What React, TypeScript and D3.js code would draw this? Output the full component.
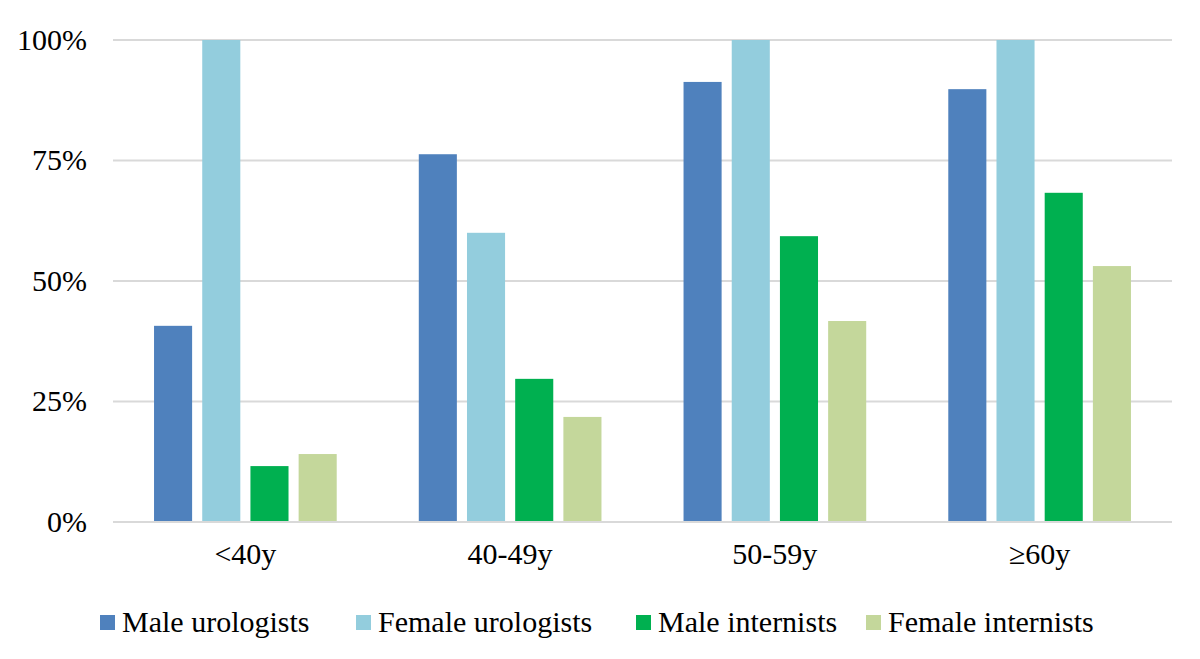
import * as React from "react";
import * as d3 from "d3";

const categories = ["<40y", "40-49y", "50-59y", "≥60y"];
const seriesNames = ["Male urologists", "Female urologists", "Male internists", "Female internists"];
const maleUrologists = [40.7, 76.3, 91.3, 89.8];
const femaleUrologists = [100, 60.0, 100, 100];
const maleInternists = [11.6, 29.7, 59.3, 68.3];
const femaleInternists = [14.1, 21.8, 41.7, 53.1];
const yTicks = [0, 25, 50, 75, 100];

const colors = ["#4F81BD", "#93CDDD", "#00B050", "#C4D79B"];
const font = "'Liberation Serif', 'Times New Roman', serif";

export default function App() {
  const width = 1200;
  const height = 659;
  const margin = { top: 40, right: 28, bottom: 137, left: 113 };
  const innerW = width - margin.left - margin.right;
  const innerH = height - margin.top - margin.bottom;

  const series = [maleUrologists, femaleUrologists, maleInternists, femaleInternists];

  const x0 = d3.scaleBand<string>().domain(categories).range([0, innerW]).paddingInner(0.31).paddingOuter(0.155);
  const x1 = d3.scaleBand<string>().domain(seriesNames).range([0, x0.bandwidth()]).paddingInner(0.21);
  const y = d3.scaleLinear().domain([0, 100]).range([innerH, 0]);

  const legendX = [100, 356, 636, 866];

  return (
    <svg width={width} height={height} style={{ position: "absolute", left: 0, top: 0, background: "#fff" }}>
      <g transform={`translate(${margin.left},${margin.top})`}>
        {yTicks.map((t) => (
          <g key={t}>
            {t > 0 && (
              <line x1={0} x2={innerW} y1={y(t)} y2={y(t)} stroke="#D9D9D9" strokeWidth={2} />
            )}
            <text x={-26} y={y(t)} dy="0.33em" textAnchor="end" fontFamily={font} fontSize={30} fill="#000">
              {t}%
            </text>
          </g>
        ))}
        {categories.map((c, i) => (
          <g key={c} transform={`translate(${x0(c)},0)`}>
            {seriesNames.map((s, j) => (
              <rect
                key={s}
                x={x1(s)}
                y={y(series[j][i])}
                width={x1.bandwidth()}
                height={innerH - y(series[j][i])}
                fill={colors[j]}
              />
            ))}
            <text
              x={x0.bandwidth() / 2}
              y={innerH + 42}
              textAnchor="middle"
              fontFamily={font}
              fontSize={30}
              fill="#000"
            >
              {c}
            </text>
          </g>
        ))}
        <line x1={0} x2={innerW} y1={innerH} y2={innerH} stroke="#D9D9D9" strokeWidth={2} />
      </g>
      <g>
        {seriesNames.map((s, j) => (
          <g key={s}>
            <rect x={legendX[j]} y={615} width={15} height={15} fill={colors[j]} />
            <text x={legendX[j] + 22} y={632} fontFamily={font} fontSize={30} fill="#000">
              {s}
            </text>
          </g>
        ))}
      </g>
    </svg>
  );
}
